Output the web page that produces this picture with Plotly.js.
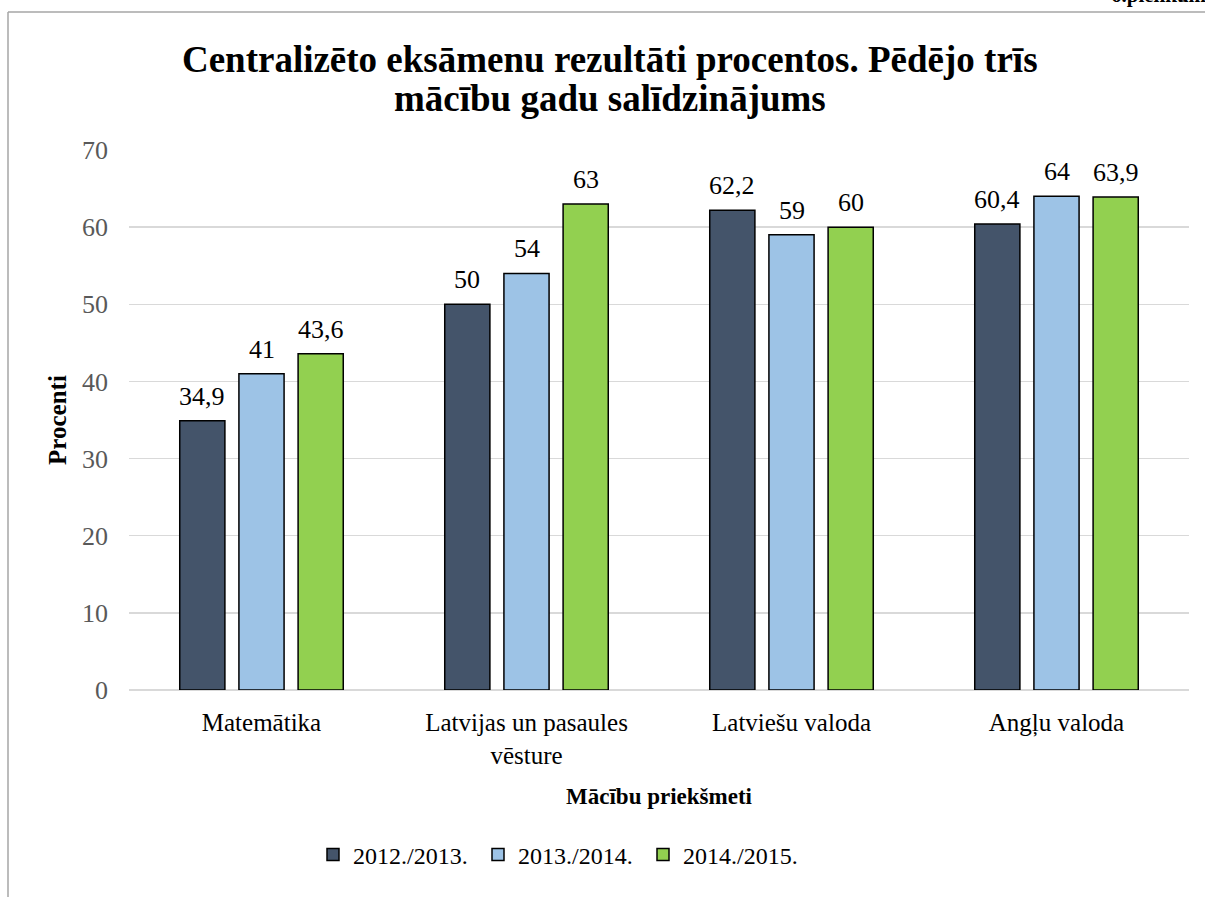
<!DOCTYPE html>
<html>
<head>
<meta charset="utf-8">
<script src="https://cdn.plot.ly/plotly-3.0.1.min.js"></script>
<style>html,body{margin:0;padding:0;background:#fff;}#chart{width:1205px;height:897px;}</style>
</head>
<body>
<div id="chart"></div>
<script>
const categories = ["Matemātika", "Latvijas un pasaules<br>vēsture", "Latviešu valoda", "Angļu valoda"];
const seriesNames = ["2012./2013.", "2013./2014.", "2014./2015."];
const values2012 = [34.9, 50, 62.2, 60.4];
const values2013 = [41, 54, 59, 64];
const values2014 = [43.6, 63, 60, 63.9];
const yTicks = [0, 10, 20, 30, 40, 50, 60, 70];
const colors = ["#44546A", "#9DC3E6", "#92D050"];

const serif = "Liberation Serif, Times New Roman, serif";
const allValues = [values2012, values2013, values2014];

const ml = 129, mr = 16, mt = 150, mb = 207, W = 1205, H = 897;
const pw = W - ml - mr, ph = H - mt - mb;
const px = x => (x - ml) / pw;
const py = y => (H - mb - y) / ph;
const bargap = 0.33;
const slotPx = (1 - bargap) * pw / categories.length / allValues.length;

const traces = allValues.map((vals, i) => ({
  type: "bar",
  name: seriesNames[i],
  x: categories,
  y: vals,
  marker: {color: colors[i], line: {color: "#000", width: 1.5}},
  hoverinfo: "none"
}));

const labelAnnotations = [];
allValues.forEach((vals, i) => {
  vals.forEach((v, j) => {
    labelAnnotations.push({
      text: String(v).replace(".", ","),
      x: categories[j], y: v, xref: "x", yref: "y",
      xshift: (i - (allValues.length - 1) / 2) * slotPx,
      yshift: 8,
      xanchor: "center", yanchor: "bottom",
      showarrow: false,
      font: {family: serif, size: 26, color: "#000"}
    });
  });
});

const layout = {
  width: W, height: H,
  margin: {l: ml, r: mr, t: mt, b: mb, pad: 0},
  paper_bgcolor: "#fff",
  plot_bgcolor: "#fff",
  barmode: "group",
  bargap: bargap,
  bargroupgap: 0.237,
  showlegend: true,
  font: {family: serif, color: "#000"},
  title: {
    text: "<b>Centralizēto eksāmenu rezultāti procentos. Pēdējo trīs</b>",
    font: {family: serif, size: 37, color: "#000"},
    x: 0.506, xanchor: "center",
    y: 1 - 59 / H, yanchor: "middle", yref: "container"
  },
  xaxis: {
    type: "category",
    tickfont: {family: serif, size: 25, color: "#000"},
    showgrid: false, zeroline: false, showline: false,
    ticks: "", ticklabelstandoff: 15,
    title: {text: "<b>Mācību priekšmeti</b>", font: {family: serif, size: 23, color: "#000"}, standoff: 20},
    automargin: false
  },
  yaxis: {
    range: [0, 70],
    tickvals: yTicks,
    ticktext: yTicks.map(String),
    tickfont: {family: serif, size: 26, color: "#595959"},
    showgrid: true, gridcolor: "#d9d9d9", gridwidth: 1.3,
    zeroline: true, zerolinecolor: "#d9d9d9", zerolinewidth: 1.3,
    showline: false, ticks: "", ticklabelstandoff: 20,
    title: {text: "<b>Procenti</b>", font: {family: serif, size: 25, color: "#000"}, standoff: 8},
    automargin: false
  },
  legend: {
    orientation: "h",
    x: px(313), xanchor: "left",
    y: py(855), yanchor: "middle",
    font: {family: serif, size: 24, color: "#000"},
    entrywidth: 120,
    itemclick: false, itemdoubleclick: false,
    traceorder: "normal"
  },
  shapes: [
    {type: "line", xref: "paper", yref: "paper", x0: px(8), x1: px(1210), y0: py(12), y1: py(12), line: {color: "#a6a6a6", width: 1.5}},
    {type: "line", xref: "paper", yref: "paper", x0: px(8), x1: px(8), y0: py(12), y1: py(900), line: {color: "#a6a6a6", width: 1.5}}
  ],
  annotations: [
    {text: "<b>mācību gadu salīdzinājums</b>", xref: "paper", yref: "paper", x: px(610), y: py(99), xanchor: "center", yanchor: "middle", showarrow: false, font: {family: serif, size: 37, color: "#000"}},
    {text: "<b>6.pielikums</b>", xref: "paper", yref: "paper", x: px(1216), y: py(9), xanchor: "right", yanchor: "bottom", showarrow: false, font: {family: serif, size: 21, color: "#000"}}
  ].concat(labelAnnotations)
};

Plotly.newPlot("chart", traces, layout, {staticPlot: true, displayModeBar: false});
</script>
</body>
</html>
